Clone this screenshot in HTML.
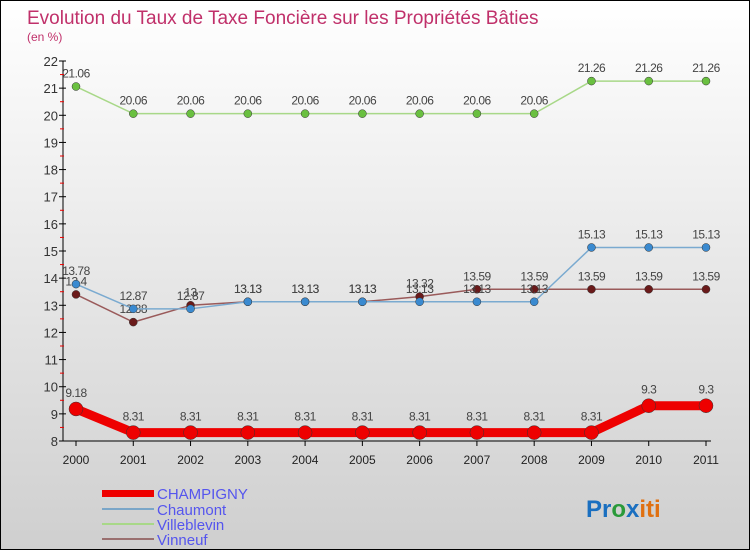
<!DOCTYPE html>
<html><head><meta charset="utf-8"><style>
body{margin:0}
#c{width:750px;height:550px;position:relative;box-sizing:border-box;border:1px solid #000;background:linear-gradient(#ffffff,#cfcfcf);font-family:"Liberation Sans",sans-serif;overflow:hidden}
svg text{font-family:"Liberation Sans",sans-serif}
</style></head><body>
<div id="c">
<svg id="s" width="750" height="550">
<text x="26" y="23" font-size="19" fill="#c0306a">Evolution du Taux de Taxe Foncière sur les Propriétés Bâties</text>
<text x="26" y="40" font-size="12" fill="#c0306a">(en %)</text>
<g id="axes"></g><g id="series"></g>
<g>
<rect x="101" y="489" width="52" height="7" fill="#e00"/>
<text x="156" y="498" font-size="15" fill="#5555ee">CHAMPIGNY</text>
<rect x="101" y="507" width="52" height="2" fill="#7aa6c8"/>
<text x="156" y="514" font-size="15" fill="#5555ee">Chaumont</text>
<rect x="101" y="522" width="52" height="2" fill="#a8d888"/>
<text x="156" y="529" font-size="15" fill="#5555ee">Villeblevin</text>
<rect x="101" y="537" width="52" height="2" fill="#9a7070"/>
<text x="156" y="544" font-size="15" fill="#5555ee">Vinneuf</text>
</g>
<text x="585" y="516" font-size="24" font-weight="bold"><tspan fill="#1a6fc0">Pr</tspan><tspan fill="#2a9a3a">o</tspan><tspan fill="#1a6fc0">x</tspan><tspan fill="#e07010">iti</tspan></text>
</svg>
</div>
<script>
const years=["2000","2001","2002","2003","2004","2005","2006","2007","2008","2009","2010","2011"];
const yTicks=[8,9,10,11,12,13,14,15,16,17,18,19,20,21,22];
const champigny=[9.18,8.31,8.31,8.31,8.31,8.31,8.31,8.31,8.31,8.31,9.3,9.3];
const chaumont=[13.78,12.87,12.87,13.13,13.13,13.13,13.13,13.13,13.13,15.13,15.13,15.13];
const villeblevin=[21.06,20.06,20.06,20.06,20.06,20.06,20.06,20.06,20.06,21.26,21.26,21.26];
const vinneuf=[13.4,12.38,13,13.13,13.13,13.13,13.32,13.59,13.59,13.59,13.59,13.59];
const NS="http://www.w3.org/2000/svg";
const X=i=>75+i*(630/(years.length-1));
const Y=v=>440-(v-8)*(380/14);
function mk(t,a,p){const e=document.createElementNS(NS,t);for(const k in a)e.setAttribute(k,a[k]);p.appendChild(e);return e;}
const ax=document.getElementById('axes');
let l=mk('line',{x1:62,y1:Y(22),x2:62,y2:Y(8),stroke:'#000'},ax);


l=mk('line',{x1:62,y1:440,x2:710,y2:440,stroke:'#000'},ax);


yTicks.forEach(v=>{
 mk('line',{x1:58,y1:Y(v),x2:65,y2:Y(v),stroke:'#000'},ax);
 if(v<22)mk('line',{x1:59,y1:Y(v+0.5),x2:63,y2:Y(v+0.5),stroke:'#e00'},ax);
 const t=mk('text',{x:57,y:Y(v)+5,'font-size':13,fill:'#333','text-anchor':'end'},ax);t.textContent=v;
 
 
});
years.forEach((y,i)=>{
 mk('line',{x1:X(i),y1:440,x2:X(i),y2:445,stroke:'#000'},ax);
 const t=mk('text',{x:X(i),y:463,'font-size':12,fill:'#222','text-anchor':'middle'},ax);t.textContent=y;
 
 
});
const sg=document.getElementById('series');
function draw(name,data,color,dot,w,r,fs){
 const g=mk('g',{},sg);
 
 
 const p=mk('polyline',{points:data.map((v,i)=>X(i)+','+Y(v)).join(' '),fill:'none',stroke:color,'stroke-width':w,'stroke-linejoin':'round'},g);
 
 
 data.forEach((v,i)=>{
  const c=mk('circle',{cx:X(i),cy:Y(v),r:r,fill:dot,stroke:'#333','stroke-width':0.5},g);
  
  
  const t=mk('text',{x:X(i),y:Y(v)-r-5,'font-size':fs,fill:'#444','text-anchor':'middle','letter-spacing':'-0.5'},g);
  t.textContent=v;
  
  
 });
}
draw('vinneuf',vinneuf,'#9a5a5a','#6a1a1a',1.5,4,12);
draw('chaumont',chaumont,'#7aaad0','#3a8ad0',1.5,4,12);
draw('villeblevin',villeblevin,'#a8d888','#6ac040',1.5,4,12);
draw('champigny',champigny,'#ee0000','#ee0000',9,7,12);
</script>
</body></html>
